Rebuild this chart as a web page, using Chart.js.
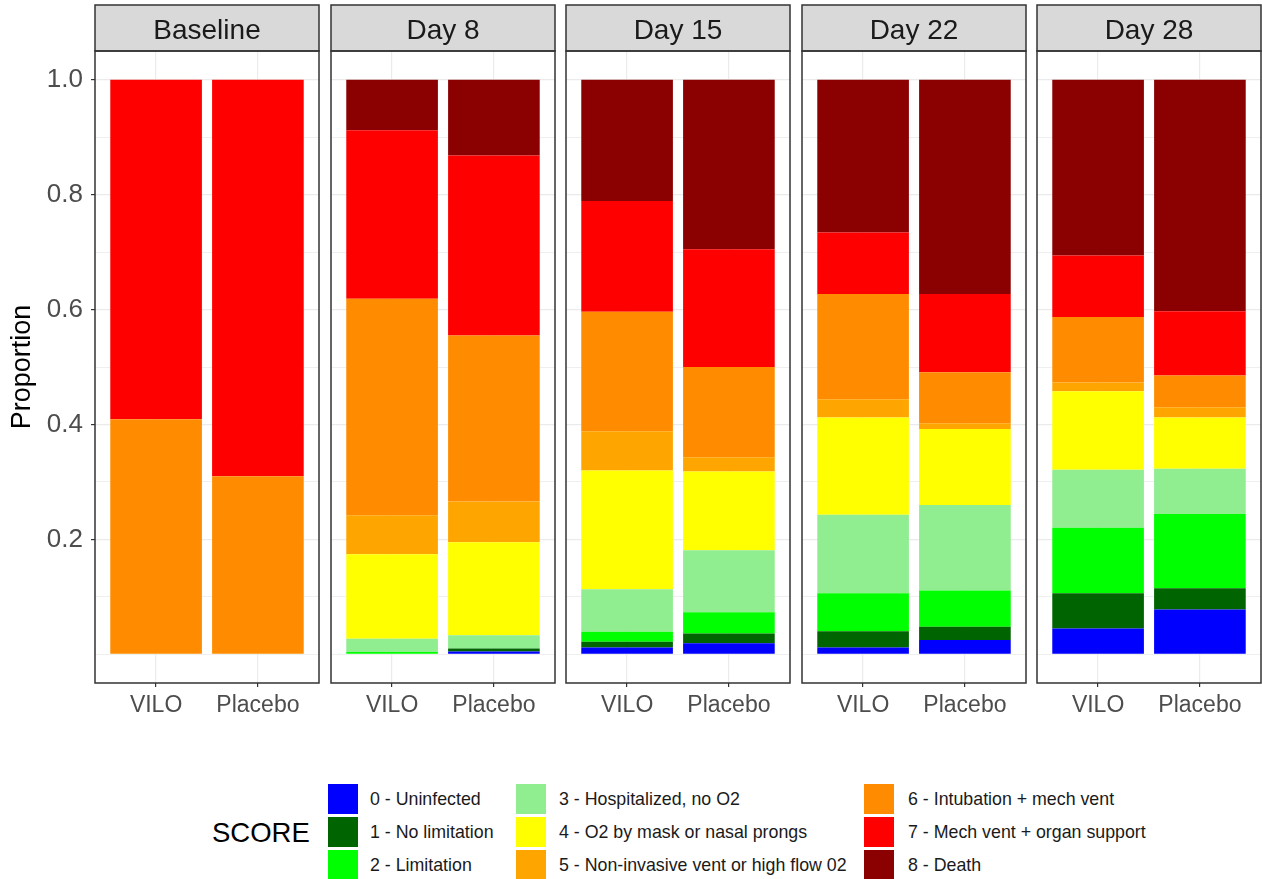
<!DOCTYPE html>
<html>
<head>
<meta charset="utf-8">
<script src="https://cdn.jsdelivr.net/npm/chart.js@4"></script>
<style>
  html, body { margin: 0; padding: 0; background: #fff; }
  #page { position: relative; width: 1262px; height: 879px; overflow: hidden; background: #fff; font-family: "Liberation Sans", Arial, sans-serif; }
  #page canvas { position: absolute; top: 0; }
  .key { position: absolute; width: 30px; height: 30px; }
  .lbl { position: absolute; height: 30px; line-height: 30px; font-size: 17.8px; color: #1a1a1a; white-space: nowrap; }
  #legendTitle { position: absolute; left: 212px; top: 815px; height: 36px; line-height: 36px; font-size: 27.5px; color: #000; }
</style>
</head>
<body>
<div id="page">
  <div id="legendTitle">SCORE</div>
</div>
<script>
// --- data ---
const panelNames = ['Baseline', 'Day 8', 'Day 15', 'Day 22', 'Day 28'];
const groups = ['VILO', 'Placebo'];
const scoreLabels = [
  '0 - Uninfected', '1 - No limitation', '2 - Limitation',
  '3 - Hospitalized, no O2', '4 - O2 by mask or nasal prongs', '5 - Non-invasive vent or high flow 02',
  '6 - Intubation + mech vent', '7 - Mech vent + organ support', '8 - Death'
];
const scoreColors = ['#0000ff', '#006400', '#00ff00', '#90ee90', '#ffff00', '#ffa500', '#ff8c00', '#ff0000', '#8b0000'];

// one row per panel, one value per score (0..8)
const viloValues = [
  [0, 0, 0, 0, 0, 0, 0.409, 0.591, 0],
  [0, 0, 0.004, 0.023, 0.147, 0.068, 0.377, 0.293, 0.088],
  [0.012, 0.010, 0.017, 0.074, 0.207, 0.068, 0.208, 0.193, 0.211],
  [0.012, 0.028, 0.066, 0.137, 0.169, 0.032, 0.183, 0.107, 0.266],
  [0.045, 0.061, 0.114, 0.101, 0.137, 0.015, 0.114, 0.107, 0.306]
];
const placeboValues = [
  [0, 0, 0, 0, 0, 0, 0.31, 0.69, 0],
  [0.005, 0.005, 0, 0.023, 0.162, 0.071, 0.289, 0.313, 0.132],
  [0.019, 0.017, 0.037, 0.108, 0.137, 0.025, 0.157, 0.205, 0.295],
  [0.025, 0.023, 0.063, 0.149, 0.132, 0.010, 0.089, 0.136, 0.373],
  [0.078, 0.037, 0.129, 0.079, 0.089, 0.018, 0.055, 0.112, 0.403]
];
const yTickLabels = [0.2, 0.4, 0.6, 0.8, 1.0];

// --- layout ---
const page = document.getElementById('page');
const panelLeft = [95, 331, 566, 802, 1037];
const panelW = 224;
const axisW = 95;
const canvasH = 720;
const FONT = '"Liberation Sans", Arial, sans-serif';

// strip + panel border, ggplot style
const facetPlugin = {
  id: 'facet',
  afterDraw(chart, args, opts) {
    const { ctx, chartArea: a } = chart;
    ctx.save();
    ctx.fillStyle = '#d9d9d9';
    ctx.fillRect(a.left, 5, a.right - a.left, a.top - 5);
    ctx.strokeStyle = '#333333';
    ctx.lineWidth = 1.5;
    ctx.strokeRect(a.left, 5, a.right - a.left, a.top - 5);
    ctx.strokeRect(a.left, a.top, a.right - a.left, a.bottom - a.top);
    ctx.fillStyle = '#1a1a1a';
    ctx.font = '28px ' + FONT;
    ctx.textAlign = 'center';
    ctx.textBaseline = 'middle';
    ctx.fillText(opts.title, (a.left + a.right) / 2, 31);
    ctx.restore();
  }
};

panelNames.forEach((name, p) => {
  const first = p === 0;
  const yw = first ? axisW : 0;
  const cv = document.createElement('canvas');
  const w = yw + panelW + 4;
  cv.width = w;
  cv.height = canvasH;
  cv.style.left = (panelLeft[p] - yw - 2) + 'px';
  cv.style.width = w + 'px';
  cv.style.height = canvasH + 'px';
  page.appendChild(cv);

  const datasets = scoreLabels.map((lab, s) => ({
    label: lab,
    data: [
      { x: 1, y: viloValues[p][s] },
      { x: 2, y: placeboValues[p][s] }
    ],
    backgroundColor: scoreColors[s],
    borderWidth: 0,
    barPercentage: 0.9,
    categoryPercentage: 1
  }));

  new Chart(cv, {
    type: 'bar',
    data: { datasets },
    plugins: [facetPlugin],
    options: {
      responsive: false,
      animation: false,
      devicePixelRatio: 1,
      layout: { padding: { top: 51, left: 2, right: 2, bottom: 0 } },
      plugins: {
        legend: { display: false },
        tooltip: { enabled: false },
        facet: { title: name }
      },
      scales: {
        x: {
          type: 'linear',
          stacked: true,
          offset: false,
          min: 0.4,
          max: 2.6,
          afterBuildTicks: (scale) => { scale.ticks = [{ value: 1 }, { value: 2 }]; },
          afterFit: (scale) => { scale.height = canvasH - 683; },
          grid: { offset: false, color: '#ebebeb', lineWidth: 1.2, tickColor: '#333333', tickLength: 4 },
          border: { display: false },
          ticks: {
            padding: 5,
            color: '#4d4d4d',
            font: { family: FONT, size: 23 },
            callback: (v) => groups[v - 1]
          }
        },
        y: {
          type: 'linear',
          stacked: true,
          min: -0.05,
          max: 1.05,
          afterBuildTicks: (scale) => {
            const t = [];
            for (let i = 0; i <= 10; i++) t.push({ value: i / 10 });
            scale.ticks = t;
          },
          afterFit: (scale) => { scale.width = yw; },
          grid: {
            color: '#ebebeb',
            lineWidth: (c) => (c.tick && Math.round(c.tick.value * 10) % 2 === 0 && c.tick.value > 0 ? 1.2 : 0.8),
            drawTicks: first,
            tickLength: 4,
            tickColor: (c) => (c.tick && yTickLabels.some(v => Math.abs(v - c.tick.value) < 1e-6) ? '#333333' : 'rgba(0,0,0,0)')
          },
          border: { display: false },
          title: {
            display: first,
            text: 'Proportion',
            color: '#000000',
            font: { family: FONT, size: 27 },
            padding: { top: 6, bottom: 0 }
          },
          ticks: {
            display: first,
            padding: 8,
            color: '#4d4d4d',
            font: { family: FONT, size: 26 },
            callback: (v) => {
              const hit = yTickLabels.find(t => Math.abs(t - v) < 1e-6);
              return hit === undefined ? '' : hit.toFixed(1);
            }
          }
        }
      }
    }
  });
});

// --- legend (column-major, 3 x 3) ---
const keyX = [328, 516, 864];
const textX = [370, 559, 908];
scoreLabels.forEach((lab, i) => {
  const col = Math.floor(i / 3);
  const row = i % 3;
  const top = 784 + row * 33;
  const key = document.createElement('div');
  key.className = 'key';
  key.style.left = keyX[col] + 'px';
  key.style.top = top + 'px';
  key.style.background = scoreColors[i];
  page.appendChild(key);
  const t = document.createElement('div');
  t.className = 'lbl';
  t.style.left = textX[col] + 'px';
  t.style.top = top + 'px';
  t.textContent = lab;
  page.appendChild(t);
});
</script>
</body>
</html>
